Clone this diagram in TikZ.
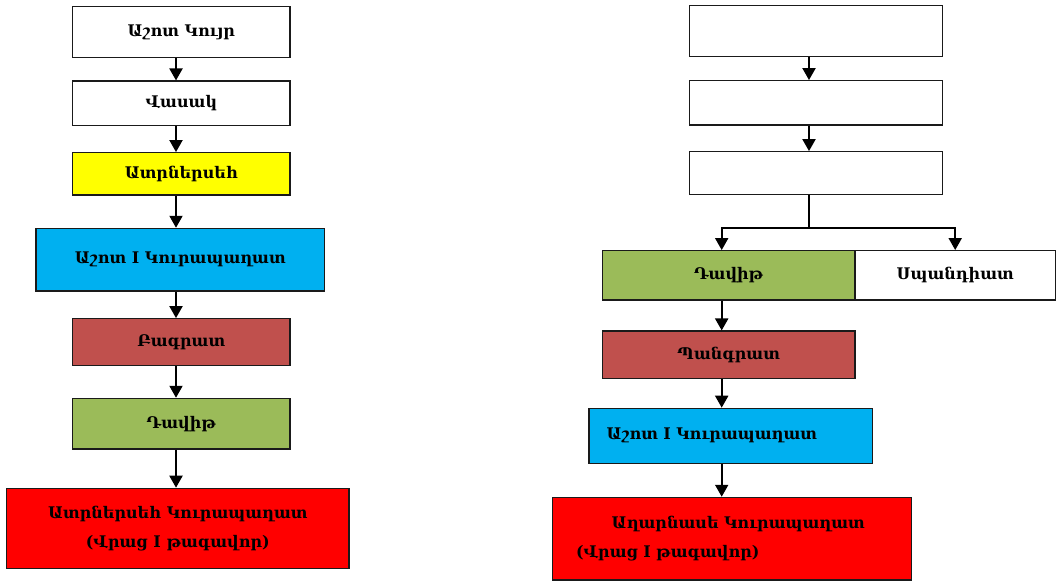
\documentclass[tikz,border=0pt]{standalone}
\usepackage{fontspec}
\setmainfont{DejaVu Serif}
\usetikzlibrary{arrows.meta}
\definecolor{boxline}{HTML}{1A1A1A}
\definecolor{yellowbox}{HTML}{FFFF00}
\definecolor{bluebox}{HTML}{00B0F0}
\definecolor{brownbox}{HTML}{C0504D}
\definecolor{greenbox}{HTML}{9BBB59}
\definecolor{redbox}{HTML}{FF0000}
\begin{document}
\begin{tikzpicture}[x=1pt,y=-1pt,
  box/.style={draw=boxline, line width=1.2pt, rectangle, inner sep=0pt, align=center,
    font=\fontsize{16}{29}\selectfont\bfseries},
  conn/.style={line width=2pt, -{Triangle[length=12pt,width=13pt]}},
  link/.style={line width=2pt}]
\useasboundingbox (0,0) rectangle (1056,581);
% helper coordinates
\coordinate (ax) at (176,0);
\coordinate (bx) at (809,0);
\coordinate (rx) at (721.7,0);
% left column
\node[box, fill=white, minimum width=217.3pt, minimum height=50.6pt] (L1) at (181.3,32) {Աշոտ Կույր};
\node[box, fill=white, minimum width=217.3pt, minimum height=44.3pt] (L2) at (181.3,103.2) {Վասակ};
\node[box, fill=yellowbox, minimum width=217.3pt, minimum height=42.3pt] (L3) at (181.3,173.8) {Ատրներսեհ};
\node[box, fill=bluebox, minimum width=288.7pt, minimum height=62.7pt] (L4) at (180.3,259.7) {Աշոտ I Կուրապաղատ};
\node[box, fill=brownbox, minimum width=217.3pt, minimum height=47pt] (L5) at (181.3,342.2) {Բագրատ};
\node[box, fill=greenbox, minimum width=217.3pt, minimum height=50.7pt] (L6) at (181.3,423.7) {Դավիթ};
\node[box, fill=redbox, minimum width=342.3pt, minimum height=80pt] (L7) at (177.8,528.3) {Ատրներսեհ Կուրապաղատ\\(Վրաց I թագավոր)};
\draw[conn] (L1.south -| ax) -- (L2.north -| ax);
\draw[conn] (L2.south -| ax) -- (L3.north -| ax);
\draw[conn] (L3.south -| ax) -- (L4.north -| ax);
\draw[conn] (L4.south -| ax) -- (L5.north -| ax);
\draw[conn] (L5.south -| ax) -- (L6.north -| ax);
\draw[conn] (L6.south -| ax) -- (L7.north -| ax);
% right column
\node[box, fill=white, minimum width=253pt, minimum height=51pt] (R1) at (815.8,31.2) {};
\node[box, fill=white, minimum width=253pt, minimum height=44.3pt] (R2) at (815.8,102.8) {};
\node[box, fill=white, minimum width=253pt, minimum height=42.6pt] (R3) at (815.8,173) {};
\node[box, fill=greenbox, minimum width=252.7pt, minimum height=49.3pt] (RD) at (728.7,275.3) {Դավիթ};
\node[box, fill=white, minimum width=200.3pt, minimum height=49.3pt] (RS) at (955.2,275.3) {Սպանդիատ};
\node[box, fill=brownbox, minimum width=252.7pt, minimum height=47.3pt] (RP) at (728.7,354.7) {Պանգրատ};
\node[box, fill=bluebox, minimum width=283.7pt, minimum height=55pt, align=left, text width=248.3pt, inner xsep=17.7pt] (RB) at (730.8,435.8) {Աշոտ I Կուրապաղատ};
\node[box, fill=redbox, minimum width=358.6pt, minimum height=82.7pt, align=left, text width=312pt, inner xsep=23.3pt] (RR) at (732,538.7) {\hspace*{35.7pt}Աղարնասե Կուրապաղատ\\(Վրաց I թագավոր)};
\draw[conn] (R1.south -| bx) -- (R2.north -| bx);
\draw[conn] (R2.south -| bx) -- (R3.north -| bx);
\draw[link] (R3.south -| bx) -- (809,227.7) coordinate (split);
\draw[conn] (split) -| (RD.north -| rx);
\draw[conn] (split) -| (RS.north);
\draw[conn] (RD.south -| rx) -- (RP.north -| rx);
\draw[conn] (RP.south -| rx) -- (RB.north -| rx);
\draw[conn] (RB.south -| rx) -- (RR.north -| rx);
\end{tikzpicture}
\end{document}
